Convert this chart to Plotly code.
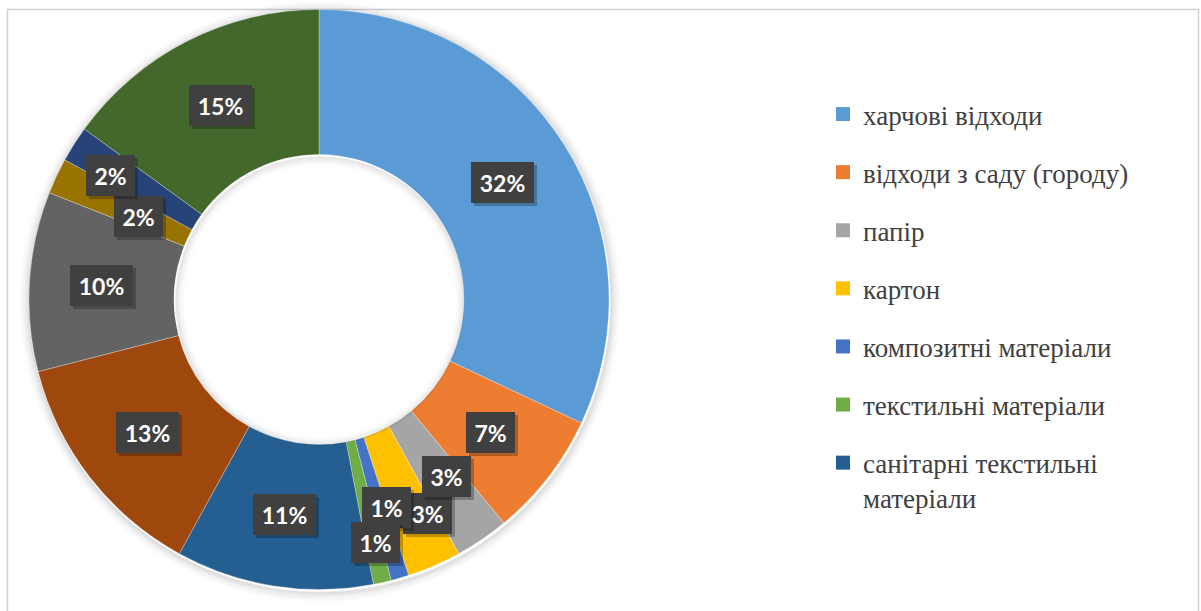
import math
import plotly.graph_objects as go

# Waste composition shares, clockwise from 12 o'clock
categories = [
    "харчові відходи",
    "відходи з саду (городу)",
    "папір",
    "картон",
    "композитні матеріали",
    "текстильні матеріали",
    "санітарні текстильні матеріали",
    "категорія 8",
    "категорія 9",
    "категорія 10",
    "категорія 11",
    "категорія 12",
]
shares = [32, 7, 3, 3, 1, 1, 11, 13, 10, 2, 2, 15]
legend_labels = [
    "харчові відходи",
    "відходи з саду (городу)",
    "папір",
    "картон",
    "композитні матеріали",
    "текстильні матеріали",
    "санітарні текстильні<br>матеріали",
]

colors = [
    "#5B9BD5", "#ED7D31", "#A5A5A5", "#FFC000", "#4472C4", "#70AD47",
    "#255E91", "#9E480E", "#636363", "#997300", "#264478", "#43682B",
]

# Manual nudges (px) for crowded data labels
label_nudge = [
    (0, 0), (0, 0), (5, -3), (22, 14), (7, -1), (9, 31),
    (0, 0), (0, 0), (0, 0), (16, 10), (-25, -7), (0, 0),
]
# drawing order of labels (later ones on top)
label_order = [0, 1, 3, 2, 4, 5, 6, 7, 8, 9, 10, 11]

W, H = 1201, 611
CX, CY, R = 319, 299.5, 290
HOLE = 0.5


def px(x):
    return x / W


def py(y):
    return 1 - y / H


fig = go.Figure()

fig.add_trace(go.Pie(
    labels=categories,
    values=shares,
    hole=HOLE,
    sort=False,
    direction="clockwise",
    rotation=0,
    textinfo="none",
    hoverinfo="label+percent",
    marker=dict(colors=colors, line=dict(color="rgba(255,255,255,0.45)", width=0.6)),
    domain=dict(x=[px(CX - R), px(CX + R)], y=[py(CY + R), py(CY - R)]),
    showlegend=False,
))

# Legend entries
for name, col in zip(legend_labels, colors):
    fig.add_trace(go.Scatter(
        x=[None], y=[None], mode="markers", name=name, legendgroup=name,
        marker=dict(symbol="square", size=14, color=col),
        hoverinfo="skip",
    ))

shapes = []
# frame
shapes.append(dict(type="rect", xref="paper", yref="paper",
                   x0=px(7.5), x1=px(1198.5), y0=py(614), y1=py(9.5),
                   line=dict(color="#D0D0D0", width=1.5), layer="below"))
# soft glow round the ring
for k in range(1, 14):
    r = R + k
    a = 0.11 * (1 - k / 14) ** 2
    shapes.append(dict(type="circle", xref="paper", yref="paper",
                       x0=px(CX - r + 1), x1=px(CX + r + 1),
                       y0=py(CY + r + 2), y1=py(CY - r + 2),
                       line=dict(color=f"rgba(0,0,0,{a:.3f})", width=1.6),
                       layer="below"))
# shading inside the hole
r_in = R * HOLE
for k in range(1, 12):
    r = r_in - k
    a = 0.09 * (1 - k / 12) ** 2
    shapes.append(dict(type="circle", xref="paper", yref="paper",
                       x0=px(CX - r + 1), x1=px(CX + r + 1),
                       y0=py(CY + r + 1.5), y1=py(CY - r + 1.5),
                       line=dict(color=f"rgba(0,0,0,{a:.3f})", width=1.6),
                       layer="above"))

# Data labels at the middle of each ring segment
total = sum(shares)
r_mid = (R + r_in) / 2
starts = [sum(shares[:i]) for i in range(len(shares))]
annotations = []
for i in label_order:
    v = shares[i]
    theta = 2 * math.pi * (starts[i] + v / 2) / total
    lx = CX + r_mid * math.sin(theta) + label_nudge[i][0]
    ly = CY - r_mid * math.cos(theta) + label_nudge[i][1]
    text = f"{v}%"
    bw = 63 if len(text) > 2 else 49
    bh = 41
    annotations.append(dict(
        x=px(lx + 3), y=py(ly + 3), xref="paper", yref="paper",
        xanchor="center", yanchor="middle",
        text=" ", showarrow=False, width=bw, height=bh,
        bgcolor="rgba(0,0,0,0.25)", borderwidth=0, borderpad=0,
    ))
    annotations.append(dict(
        x=px(lx), y=py(ly), xref="paper", yref="paper",
        xanchor="center", yanchor="middle",
        text=text, showarrow=False, width=bw, height=bh,
        bgcolor="#404040", borderwidth=0, borderpad=0,
        font=dict(family="Lato", size=23, color="white", weight="bold"),
        align="center", valign="middle",
    ))

fig.update_layout(
    width=W, height=H,
    margin=dict(l=0, r=0, t=0, b=0),
    paper_bgcolor="white", plot_bgcolor="white",
    xaxis=dict(visible=False), yaxis=dict(visible=False),
    shapes=shapes,
    annotations=annotations,
    legend=dict(
        x=px(823), y=py(90), xanchor="left", yanchor="top",
        font=dict(family="Liberation Serif", size=27, color="#404040"),
        traceorder="grouped", tracegroupgap=20, valign="top",
        bgcolor="rgba(0,0,0,0)",
    ),
)

fig.write_html("out.html")
